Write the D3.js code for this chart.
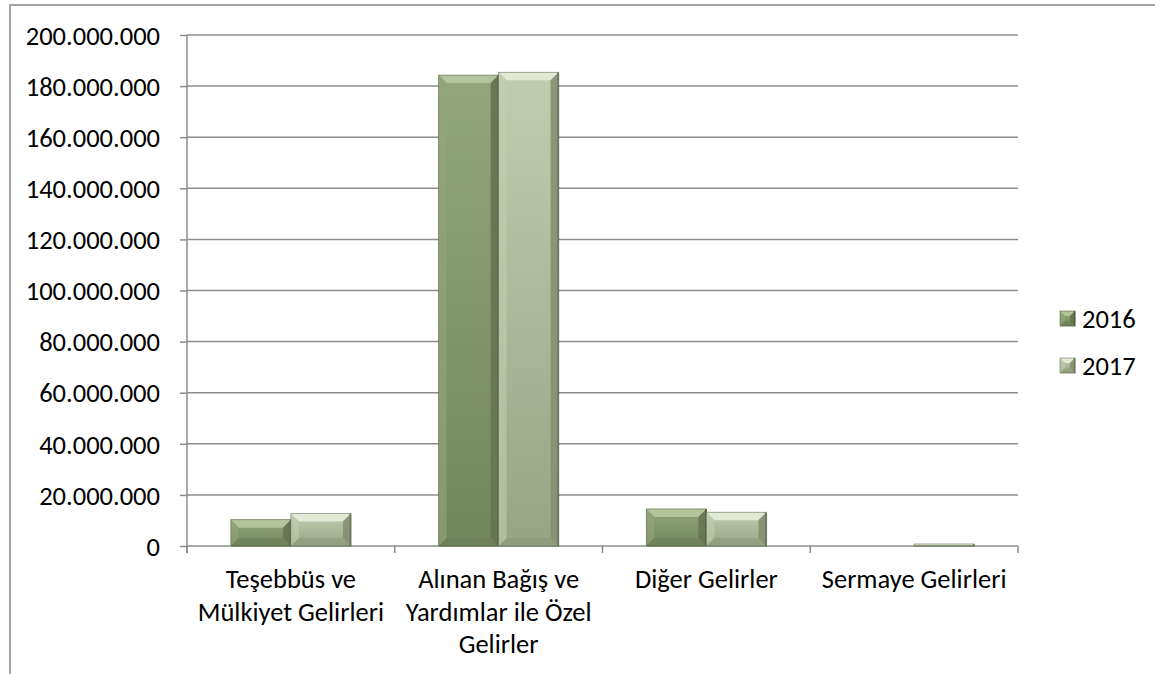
<!DOCTYPE html>
<html>
<head>
<meta charset="utf-8">
<script src="https://cdn.jsdelivr.net/npm/d3@7"></script>
<style>
  body { margin: 0; background: #fff; }
  svg text { font-family: Carlito, Lato, "Liberation Sans", sans-serif; fill: #000; }
</style>
</head>
<body>
<svg id="chart" width="1155" height="674"></svg>
<script>
// Veriler
const categories = ["Teşebbüs ve Mülkiyet Gelirleri", "Alınan Bağış ve Yardımlar ile Özel Gelirler", "Diğer Gelirler", "Sermaye Gelirleri"];
const seriesNames = ["2016", "2017"];
const values2016 = [10300000, 184300000, 14500000, 0];
const values2017 = [12700000, 185400000, 13200000, 800000];
const yTicks = [0, 20000000, 40000000, 60000000, 80000000, 100000000, 120000000, 140000000, 160000000, 180000000, 200000000];

const colors = {
    "2016": { top: "#b4c49c", face1: "#93a67c", face2: "#72865e", side: "#65754f", dark: "#55633f" },
    "2017": { top: "#e2e9d5", face1: "#c2cdb0", face2: "#96a484", side: "#858f72", dark: "#6a745a" }
};

const fontSize = 26.5;

const svg = d3.select("#chart");
const margin = { top: 35, left: 187, right: 1155 - 1018, bottom: 674 - 546 };
const width = 1155 - margin.left - margin.right;
const height = 674 - margin.top - margin.bottom;

// marco del gráfico
svg.append("path")
    .attr("d", "M10,674 L10,5 L1155,5")
    .attr("fill", "none")
    .attr("stroke", "#a3a3a3")
    .attr("stroke-width", 2);

const defs = svg.append("defs");
seriesNames.forEach(s => {
    const gr = defs.append("linearGradient")
        .attr("id", "grad" + s)
        .attr("x1", 0).attr("y1", 0).attr("x2", 0).attr("y2", 1);
    gr.append("stop").attr("offset", "0%").attr("stop-color", colors[s].face1);
    gr.append("stop").attr("offset", "100%").attr("stop-color", colors[s].face2);
});

const g = svg.append("g").attr("transform", `translate(${margin.left},${margin.top})`);

const x0 = d3.scaleBand().domain(categories).range([0, width]).padding(0);
const x1 = d3.scaleBand().domain(seriesNames).range([0, x0.bandwidth()]).paddingInner(0).paddingOuter(0.731);
const y = d3.scaleLinear().domain([0, 200000000]).range([height, 0]);

const fmt = d => d3.format(",")(d).replace(/,/g, ".");

// líneas de cuadrícula
g.append("g").attr("class", "grid")
    .selectAll("line").data(yTicks.slice(1)).join("line")
    .attr("x1", 0).attr("x2", width)
    .attr("y1", d => y(d)).attr("y2", d => y(d))
    .attr("stroke", "#8c8c8c").attr("stroke-width", 1.5);

// eje Y
const axisY = d3.axisLeft(y).tickValues(yTicks).tickFormat(fmt).tickSize(7).tickPadding(20);
const gy = g.append("g").attr("class", "axis axis-y").call(axisY);
gy.select(".domain").attr("d", `M0,0 V${height + 7}`).attr("stroke", "#8c8c8c").attr("stroke-width", 1.5);
gy.selectAll(".tick line").attr("stroke", "#8c8c8c").attr("stroke-width", 1.5);
gy.selectAll(".tick text").attr("font-size", fontSize).attr("font-family", "Carlito, Lato, sans-serif").attr("dy", "0.35em");

// eje X
const axisX = d3.axisBottom(x0).tickSize(0).tickPadding(0);
const gx = g.append("g").attr("class", "axis axis-x").attr("transform", `translate(0,${height})`).call(axisX);
gx.select(".domain").attr("d", `M0,0 H${width}`).attr("stroke", "#8c8c8c").attr("stroke-width", 1.5);
gx.selectAll(".cat-tick").data(d3.range(categories.length + 1)).join("line")
    .attr("class", "cat-tick")
    .attr("x1", i => i * x0.step()).attr("x2", i => i * x0.step())
    .attr("y1", 0).attr("y2", 7)
    .attr("stroke", "#8c8c8c").attr("stroke-width", 1.5);
gx.selectAll(".tick text")
    .attr("font-size", fontSize).attr("font-family", "Carlito, Lato, sans-serif")
    .attr("y", 0).attr("dy", null)
    .call(wrap, 203);

function wrap(texts, w) {
    texts.each(function () {
        const text = d3.select(this);
        const words = text.text().split(/\s+/);
        text.text(null);
        let line = [];
        let lineNo = 0;
        let tspan = text.append("tspan").attr("x", 0).attr("y", 42);
        words.forEach(word => {
            line.push(word);
            tspan.text(line.join(" "));
            if (tspan.node().getComputedTextLength() > w && line.length > 1) {
                line.pop();
                tspan.text(line.join(" "));
                line = [word];
                lineNo++;
                tspan = text.append("tspan").attr("x", 0).attr("y", 42 + lineNo * 32.5).text(word);
            }
        });
    });
}

// barras con bisel
const rows = categories.map((c, i) => ({ cat: c, vals: [
    { s: "2016", v: values2016[i] },
    { s: "2017", v: values2017[i] }
] }));

const groups = g.append("g").attr("class", "bars")
    .selectAll("g").data(rows).join("g")
    .attr("transform", d => `translate(${x0(d.cat)},0)`);

const bar = groups.selectAll("g.bar").data(d => d.vals.filter(v => v.v > 0)).join("g").attr("class", "bar");

bar.each(function (d) {
    const el = d3.select(this);
    const bx = x1(d.s), bw = x1.bandwidth();
    const by = y(d.v), bh = height - by;
    const b = Math.min(8, bh / 2, bw / 2);
    const c = colors[d.s];
    drawBevel(el, bx, by, bw, bh, b, c, "url(#grad" + d.s + ")");
});

function drawBevel(el, bx, by, bw, bh, b, c, fill) {
    el.append("rect").attr("x", bx + 1).attr("y", by + 1).attr("width", bw).attr("height", bh)
        .attr("fill", "#000").attr("opacity", 0.12);
    el.append("rect").attr("x", bx).attr("y", by).attr("width", bw).attr("height", bh).attr("fill", fill);
    // arriba
    el.append("polygon").attr("points", [[bx, by], [bx + bw, by], [bx + bw - b, by + b], [bx + b, by + b]].join(" "))
        .attr("fill", c.top);
    // izquierda
    el.append("polygon").attr("points", [[bx, by], [bx + b, by + b], [bx + b, by + bh - b], [bx, by + bh]].join(" "))
        .attr("fill", c.face1).attr("opacity", 0.6);
    // derecha
    el.append("polygon").attr("points", [[bx + bw, by], [bx + bw - b, by + b], [bx + bw - b, by + bh - b], [bx + bw, by + bh]].join(" "))
        .attr("fill", c.side).attr("opacity", 0.9);
    // abajo
    el.append("polygon").attr("points", [[bx, by + bh], [bx + b, by + bh - b], [bx + bw - b, by + bh - b], [bx + bw, by + bh]].join(" "))
        .attr("fill", c.side).attr("opacity", 0.35);
    el.append("line").attr("x1", bx + bw - 0.5).attr("x2", bx + bw - 0.5).attr("y1", by).attr("y2", by + bh)
        .attr("stroke", c.dark).attr("stroke-width", 1.5);
    el.append("rect").attr("x", bx).attr("y", by).attr("width", bw).attr("height", bh)
        .attr("fill", "none").attr("stroke", c.dark).attr("stroke-width", 0.8).attr("opacity", 0.7);
}

// leyenda
const legend = svg.append("g").attr("class", "legend")
    .selectAll("g").data(seriesNames).join("g")
    .attr("transform", (d, i) => `translate(1060,${311 + i * 47})`);

legend.each(function (d) {
    drawBevel(d3.select(this), 0, 0, 15, 15, 5, colors[d], "url(#grad" + d + ")");
});

legend.append("text")
    .attr("x", 22).attr("y", 7.5).attr("dy", "0.35em")
    .attr("font-size", fontSize)
    .text(d => d);
</script>
</body>
</html>
